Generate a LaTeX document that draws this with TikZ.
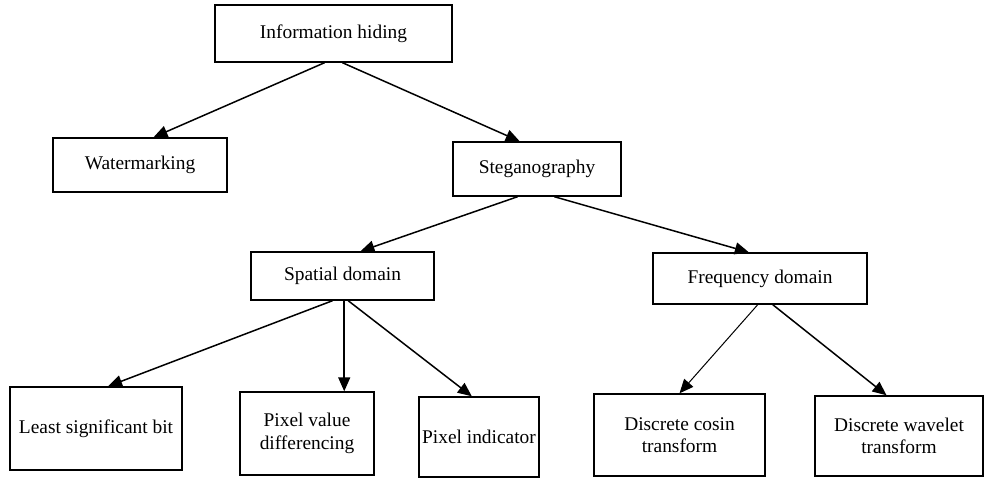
\documentclass[tikz,border=0pt]{standalone}
\usepackage{fontspec}
\setmainfont{Liberation Serif}
\usetikzlibrary{arrows.meta}

\begin{document}
\begin{tikzpicture}[x=1pt,y=-1pt] % taxonomy of hiding methods
\tikzstyle{every node}+=[inner sep=0pt]
\tikzstyle{box}=[draw=black,line width=1.4pt,align=center,font=\fontsize{19.4}{22.5}\selectfont]
\tikzstyle{link}=[black,line width=1.5pt,-{Triangle[length=14pt,width=12pt]}]
\useasboundingbox (0,0) rectangle (988,478);
% top levels
\node [box,minimum width=237,minimum height=57] (info) at (333.5,33.5) {Information hiding};
\node [box,minimum width=174,minimum height=54] (water) at (140,165) {Watermarking};
\node [box,minimum width=168,minimum height=54] (stega) at (537,169) {Steganography};
\node [box,minimum width=183,minimum height=48] (spatial) at (342.5,276) {Spatial domain};
\node [box,minimum width=214,minimum height=51] (freq) at (760,278.5) {Frequency domain};
% leaves
\node [box,minimum width=172,minimum height=83] (lsb) at (96,428.5) {Least significant bit};
\node [box,minimum width=134,minimum height=83] (pvd) at (307,433.5) {Pixel value\\differencing};
\node [box,minimum width=120,minimum height=80] (pind) at (479,437) {Pixel indicator};
\node [box,minimum width=171,minimum height=82] (dct) at (679.5,435) {Discrete cosin\\transform};
\node [box,minimum width=168,minimum height=80] (dwt) at (899,436) {Discrete wavelet\\transform};
% arrows
\draw [link] (info.253) -- (water.64);
\draw [link] (info.287) -- (stega.122);
\draw [link] (stega.235) -- (spatial.54);
\draw [link] (stega.302) -- (freq.113);
\draw [link] (spatial.248) -- (lsb.74);
\draw [link] (spatial.274) -- (spatial.274 |- pvd.north);
\draw [link] (spatial.283) -- (pind.100);
\draw [link,line width=1pt] (freq.265) -- (dct.north);
\draw [link] (freq.296) -- (dwt.107);
\end{tikzpicture}
\end{document}
